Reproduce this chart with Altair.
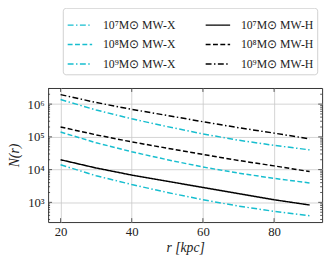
import altair as alt
import pandas as pd

r = [20, 30, 40, 50, 60, 70, 80, 90]

# N(r) per series
x7 = [1.4e4, 6.5e3, 3.5e3, 2.0e3, 1.2e3, 7.7e2, 5.3e2, 3.9e2]
x8 = [1.4e5, 6.6e4, 3.5e4, 2.0e4, 1.2e4, 7.8e3, 5.4e3, 3.9e3]
x9 = [1.38e6, 6.6e5, 3.55e5, 2.05e5, 1.23e5, 7.9e4, 5.5e4, 4.0e4]
h7 = [2.0e4, 1.12e4, 6.8e3, 4.4e3, 2.85e3, 1.85e3, 1.2e3, 8.3e2]
h8 = [2.0e5, 1.15e5, 7.0e4, 4.5e4, 2.9e4, 1.9e4, 1.3e4, 8.7e3]
h9 = [1.95e6, 1.12e6, 6.9e5, 4.5e5, 2.9e5, 1.9e5, 1.3e5, 8.7e4]

labels = ["10⁷M⊙ MW-X", "10⁸M⊙ MW-X", "10⁹M⊙ MW-X",
          "10⁷M⊙ MW-H", "10⁸M⊙ MW-H", "10⁹M⊙ MW-H"]
series_vals = [x7, x8, x9, h7, h8, h9]

CYAN = "#17becf"
colors = [CYAN, CYAN, CYAN, "black", "black", "black"]
DASHDOT = [6, 2.5, 1.5, 2.5]
DASHED = [5, 2.5]
SOLID = [1, 0]
dashes = [DASHDOT, DASHED, DASHDOT, SOLID, DASHED, DASHDOT]

y_major = [1e3, 1e4, 1e5, 1e6]
y_major_labels = ["10³", "10⁴", "10⁵", "10⁶"]
x_major = [20, 40, 60, 80]

rows = []
for lab, vals in zip(labels, series_vals):
    for rr, v in zip(r, vals):
        rows.append({"r": rr, "N": v, "series": lab})
df = pd.DataFrame(rows)

W, H = 280, 137
YDOM = [250, 3.1e6]
XDOM = [16.5, 93.5]
FONT = "Liberation Serif"

xscale = alt.Scale(domain=XDOM, nice=False, zero=False)
yscale = alt.Scale(type="log", domain=YDOM, nice=False)

label_expr = " : ".join(
    f"datum.value == {int(v)} ? '{l}'" for v, l in zip(y_major, y_major_labels)
) + " : ''"

lines = alt.Chart(df).mark_line(strokeWidth=1.5, clip=True).encode(
    x=alt.X("r:Q", scale=xscale,
            axis=alt.Axis(values=x_major, title="r [kpc]", grid=True,
                          ticks=False, domain=False, labelPadding=4,
                          titleFontStyle="italic", titlePadding=2)),
    y=alt.Y("N:Q", scale=yscale,
            axis=alt.Axis(values=y_major, labelExpr=label_expr, title="N(r)",
                          grid=True, ticks=False, domain=False, labelPadding=4,
                          titleFontStyle="italic", titlePadding=6)),
    color=alt.Color("series:N", scale=alt.Scale(domain=labels, range=colors),
                    title=None),
    strokeDash=alt.StrokeDash("series:N", scale=alt.Scale(domain=labels, range=dashes),
                              title=None),
    detail="series:N",
)

y_minor = [m * 10 ** k for k in range(2, 7) for m in range(2, 10)
           if YDOM[0] <= m * 10 ** k <= YDOM[1]]

ymaj_df = pd.DataFrame({"v": y_major})
ymin_df = pd.DataFrame({"v": y_minor})
xmaj_df = pd.DataFrame({"v": x_major})

TC = "#333333"

def yticks(d, length):
    base = alt.Chart(d).mark_rule(color=TC, strokeWidth=0.8)
    left = base.encode(y=alt.Y("v:Q", scale=yscale), x=alt.value(0), x2=alt.value(length))
    right = base.encode(y=alt.Y("v:Q", scale=yscale), x=alt.value(W), x2=alt.value(W - length))
    return left + right

def xticks(d, length):
    base = alt.Chart(d).mark_rule(color=TC, strokeWidth=0.8)
    bot = base.encode(x=alt.X("v:Q", scale=xscale), y=alt.value(H), y2=alt.value(H - length))
    top = base.encode(x=alt.X("v:Q", scale=xscale), y=alt.value(0), y2=alt.value(length))
    return bot + top

chart = alt.layer(
    lines,
    yticks(ymaj_df, 4),
    yticks(ymin_df, 2),
    xticks(xmaj_df, 4),
).properties(
    width=W, height=H,
    autosize=alt.AutoSizeParams(type="none"),
    padding={"left": 41, "top": 79, "right": 5, "bottom": 36},
).configure_view(
    stroke=TC, strokeWidth=1
).configure_axis(
    labelFont=FONT, titleFont=FONT, labelFontSize=13, titleFontSize=14,
    labelColor="#222", titleColor="#222", gridColor="#c8c8c8", gridWidth=0.8,
    titleFontWeight="normal",
).configure_legend(
    orient="none", legendX=15, legendY=-82, columns=2,
    symbolType="stroke", symbolSize=625, symbolStrokeWidth=1.5,
    labelFont=FONT, labelFontSize=12, labelColor="#222", labelLimit=300,
    labelOffset=10, columnPadding=28, rowPadding=-6,
    strokeColor="#d0d0d0", cornerRadius=3, fillColor="white", padding=4,
)

chart.save("out.html", embed_options={"renderer": "svg", "actions": False})
